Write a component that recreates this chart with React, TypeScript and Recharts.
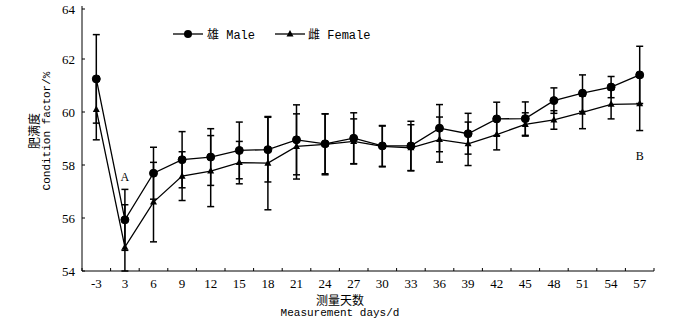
import React from "react";
import { LineChart, Line, XAxis, YAxis, ErrorBar, ReferenceDot } from "recharts";

// 测量天数 (x 轴类别)
const days = ["-3", "3", "6", "9", "12", "15", "18", "21", "24", "27", "30", "33", "36", "39", "42", "45", "48", "51", "54", "57"];

// 雄 Male: 均值与误差
const maleMean = [61.25, 55.93, 57.69, 58.2, 58.3, 58.55, 58.58, 58.95, 58.8, 59.01, 58.72, 58.72, 59.39, 59.18, 59.74, 59.75, 60.43, 60.71, 60.94, 61.4];
const maleErr = [1.67, 1.15, 0.98, 1.06, 1.07, 1.07, 1.22, 1.32, 1.13, 0.96, 0.77, 0.93, 0.89, 0.77, 0.63, 0.63, 0.48, 0.69, 0.4, 1.08];

// 雌 Female: 均值与误差
const femaleMean = [60.09, 54.9, 56.6, 57.58, 57.77, 58.09, 58.07, 58.7, 58.78, 58.89, 58.7, 58.65, 58.96, 58.8, 59.15, 59.53, 59.7, 59.99, 60.29, 60.31];
const femaleErr = [1.14, 1.6, 1.5, 0.92, 1.34, 0.8, 1.76, 1.23, 1.15, 0.85, 0.77, 0.87, 0.85, 0.82, 0.58, 0.44, 0.35, 0.62, 0.55, 1.01];

const yMin = 54;
const yMax = 64;
const yTicks = [54, 56, 58, 60, 62, 64];

// 显著性标记
const marks = [
  { idx: 1, value: 57.55, text: "A" },
  { idx: 19, value: 58.34, text: "B" },
];

// 误差线在坐标轴处截断
const clipErr = (mean: number, err: number) => [Math.min(err, mean - yMin), Math.min(err, yMax - mean)];

const data = days.map((d, i) => ({
  idx: i,
  day: d,
  male: maleMean[i],
  maleErr: clipErr(maleMean[i], maleErr[i]),
  female: femaleMean[i],
  femaleErr: clipErr(femaleMean[i], femaleErr[i]),
}));

// 类别中心放标签, 类别之间放刻度线
const xTicks: number[] = [];
for (let i = -1; i < days.length * 2; i++) xTicks.push(i / 2);

const serif = '"Liberation Serif", "Times New Roman", serif';
const mono = '"Liberation Mono", "Courier New", monospace';
const cjk = '"Noto Sans CJK SC", sans-serif';

const XTick = (props: any) => {
  const { x, y, payload } = props;
  const v = payload.value as number;
  if (Number.isInteger(v)) {
    return (
      <text x={x} y={y + 17} textAnchor="middle" fontFamily={serif} fontSize={13} fill="#000">
        {days[v]}
      </text>
    );
  }
  return <line x1={x} x2={x} y1={y} y2={y - 3} stroke="#000" strokeWidth={1} />;
};

const YTick = (props: any) => {
  const { x, y, payload } = props;
  return (
    <g>
      <line x1={x} x2={x + 3} y1={y} y2={y} stroke="#000" strokeWidth={1} />
      <text x={x - 7} y={y + 4.5} textAnchor="end" fontFamily={serif} fontSize={13} fill="#000">
        {payload.value}
      </text>
    </g>
  );
};

const Triangle = (props: any) => {
  const { cx, cy } = props;
  if (cx == null || cy == null) return null;
  return <path d={`M${cx},${cy - 4}L${cx + 3.5},${cy + 2.5}L${cx - 3.5},${cy + 2.5}Z`} fill="#000" />;
};

const MarkLabel = (props: any) => {
  const { viewBox, value } = props;
  if (!viewBox) return null;
  const cx = viewBox.cx ?? viewBox.x + (viewBox.width || 0) / 2;
  const cy = viewBox.cy ?? viewBox.y + (viewBox.height || 0) / 2;
  return (
    <text x={cx} y={cy + 4} textAnchor="middle" fontFamily={serif} fontSize={12} fill="#000" stroke="none">
      {value}
    </text>
  );
};

const YTitle = () => (
  <g>
    <text x={33} y={131} transform="rotate(-90 33 131)" textAnchor="middle" dominantBaseline="central" fontFamily={cjk} fontSize={12} fill="#000">
      肥满度
    </text>
    <text x={47} y={131} transform="rotate(-90 47 131)" textAnchor="middle" dominantBaseline="central" fontFamily={mono} fontSize={11} fill="#000">
      Condition factor/%
    </text>
  </g>
);

const XTitle = () => (
  <g>
    <text x={340} y={305} textAnchor="middle" fontFamily={cjk} fontSize={12} fill="#000">
      测量天数
    </text>
    <text x={340} y={316} textAnchor="middle" fontFamily={mono} fontSize={11} fill="#000">
      Measurement days/d
    </text>
  </g>
);

export default function App() {
  return (
    <div style={{ position: "relative", width: 700, height: 319, background: "#fff" }}>
      <style>{`body{margin:0}`}</style>
      <LineChart width={700} height={319} data={data} margin={{ top: 6, right: 46, bottom: 0, left: 0 }}>
        <XAxis
          dataKey="idx"
          type="number"
          domain={[-0.5, 19.5]}
          ticks={xTicks}
          interval={0}
          tickSize={0}
          tickMargin={0}
          tickLine={false}
          tick={<XTick />}
          height={48}
          stroke="#000"
          label={<XTitle />}
        />
        <YAxis
          type="number"
          domain={[yMin, yMax]}
          ticks={yTicks}
          allowDataOverflow
          tickSize={0}
          tickMargin={0}
          tickLine={false}
          tick={<YTick />}
          width={82}
          stroke="#000"
          label={<YTitle />}
        />
        <Line
          dataKey="female"
          stroke="#000"
          strokeWidth={1.3}
          dot={<Triangle />}
          activeDot={false}
          isAnimationActive={false}
        >
          <ErrorBar dataKey="femaleErr" width={3.5} stroke="#000" strokeWidth={1.5} />
        </Line>
        <Line
          dataKey="male"
          stroke="#000"
          strokeWidth={1.3}
          dot={{ r: 4, fill: "#000", stroke: "#000", strokeWidth: 1 }}
          activeDot={false}
          isAnimationActive={false}
        >
          <ErrorBar dataKey="maleErr" width={3.5} stroke="#000" strokeWidth={1.5} />
        </Line>
        {marks.map((m) => (
          <ReferenceDot
            key={m.text}
            x={m.idx}
            y={m.value}
            r={1}
            fill="none"
            stroke="none"
            label={<MarkLabel value={m.text} />}
          />
        ))}
      </LineChart>
      <div
        style={{
          position: "absolute",
          left: 173,
          top: 25,
          display: "flex",
          alignItems: "center",
          fontFamily: mono,
          fontSize: 12,
          color: "#000",
          whiteSpace: "nowrap",
        }}
      >
        <svg width={30} height={10}>
          <line x1={0} x2={30} y1={5} y2={5} stroke="#000" strokeWidth={1.3} />
          <circle cx={15} cy={5} r={4} fill="#000" />
        </svg>
        <span style={{ marginLeft: 4 }}>
          <span style={{ fontFamily: cjk }}>雄</span> Male
        </span>
        <svg width={30} height={10} style={{ marginLeft: 20 }}>
          <line x1={0} x2={30} y1={5} y2={5} stroke="#000" strokeWidth={1.3} />
          <path d="M15,1L18.5,7.5L11.5,7.5Z" fill="#000" />
        </svg>
        <span style={{ marginLeft: 3 }}>
          <span style={{ fontFamily: cjk }}>雌</span> Female
        </span>
      </div>
    </div>
  );
}
